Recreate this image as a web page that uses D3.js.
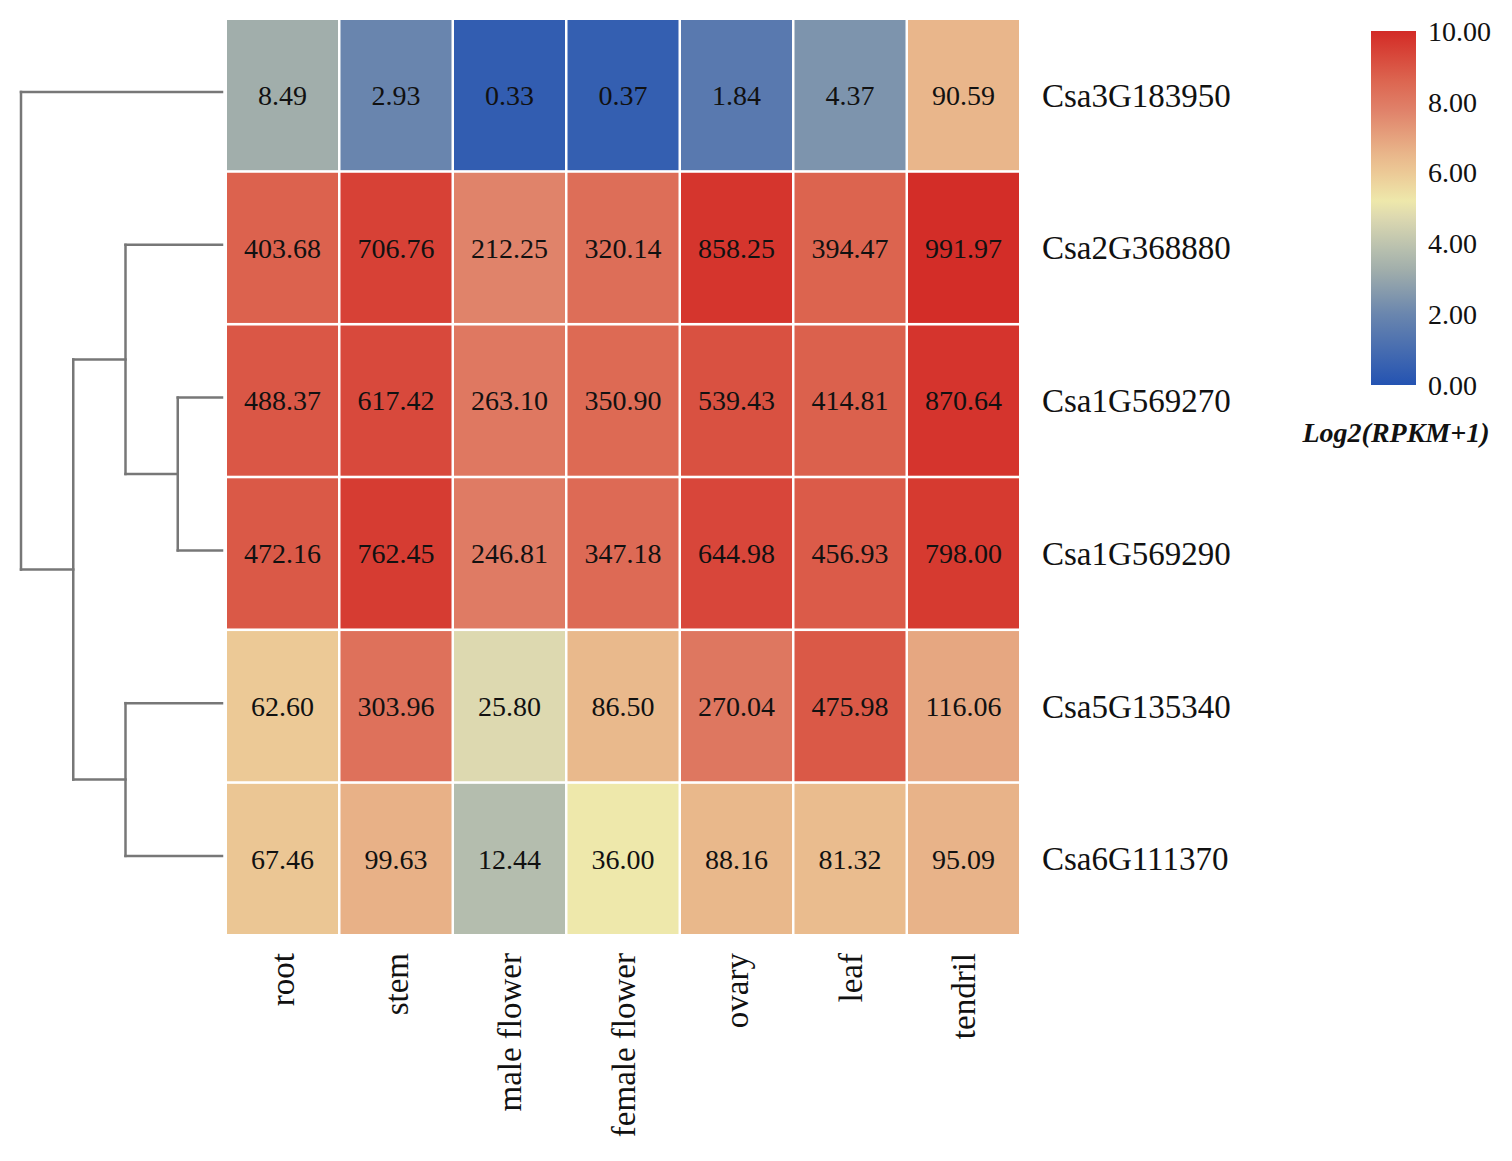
<!DOCTYPE html>
<html>
<head>
<meta charset="utf-8">
<script src="https://cdn.jsdelivr.net/npm/d3@7/dist/d3.min.js"></script>
<style>
  html, body { margin: 0; padding: 0; background: #fff; }
  text { font-family: "Liberation Serif", "Times New Roman", serif; }
</style>
</head>
<body>
<svg id="chart" width="1512" height="1161"></svg>
<script>
// ---------- data ----------
const tissues = ["root", "stem", "male flower", "female flower", "ovary", "leaf", "tendril"];
const genes = ["Csa3G183950", "Csa2G368880", "Csa1G569270", "Csa1G569290", "Csa5G135340", "Csa6G111370"];

const Csa3G183950 = [8.49, 2.93, 0.33, 0.37, 1.84, 4.37, 90.59];
const Csa2G368880 = [403.68, 706.76, 212.25, 320.14, 858.25, 394.47, 991.97];
const Csa1G569270 = [488.37, 617.42, 263.10, 350.90, 539.43, 414.81, 870.64];
const Csa1G569290 = [472.16, 762.45, 246.81, 347.18, 644.98, 456.93, 798.00];
const Csa5G135340 = [62.60, 303.96, 25.80, 86.50, 270.04, 475.98, 116.06];
const Csa6G111370 = [67.46, 99.63, 12.44, 36.00, 88.16, 81.32, 95.09];

const legendTicks = [0, 2, 4, 6, 8, 10];
const legendTitle = "Log2(RPKM+1)";

// colour stops (log2 value -> colour)
const colorStops = [0, 2, 3.25, 3.75, 4.74, 5.2, 6, 6.5, 7.75, 8.6, 9.75, 10];
const colorValues = ["#2453b2", "#6a86ae", "#a1aeab", "#b4bdae", "#ddd9b0", "#eee8ab",
                     "#ecc996", "#e9b78b", "#e0826a", "#dc6550", "#d5352d", "#d22b27"];

// row dendrogram (h = merge height)
const rowTree = {h: 4, children: [
  {leaf: "Csa3G183950"},
  {h: 3, children: [
    {h: 2, children: [
      {leaf: "Csa2G368880"},
      {h: 1, children: [{leaf: "Csa1G569270"}, {leaf: "Csa1G569290"}]}
    ]},
    {h: 2, children: [{leaf: "Csa5G135340"}, {leaf: "Csa6G111370"}]}
  ]}
]};

const rowValues = {Csa3G183950, Csa2G368880, Csa1G569270, Csa1G569290, Csa5G135340, Csa6G111370};
const cells = [];
genes.forEach(g => rowValues[g].forEach((v, i) => cells.push({gene: g, tissue: tissues[i], value: v})));

// ---------- drawing ----------
const svg = d3.select("#chart");
const x = d3.scaleBand().domain(tissues).range([227, 1019]).paddingInner(0.022);
const y = d3.scaleBand().domain(genes).range([20, 934]).paddingInner(0.017);
const color = d3.scaleLinear().domain(colorStops).range(colorValues).clamp(true);
const lg = v => Math.log2(v + 1);

// cells
svg.append("g").selectAll("rect").data(cells).join("rect")
  .attr("x", d => x(d.tissue)).attr("y", d => y(d.gene))
  .attr("width", x.bandwidth()).attr("height", y.bandwidth())
  .attr("fill", d => color(lg(d.value)));

svg.append("g").selectAll("text").data(cells).join("text")
  .attr("x", d => x(d.tissue) + x.bandwidth() / 2)
  .attr("y", d => y(d.gene) + y.bandwidth() / 2)
  .attr("text-anchor", "middle").attr("dy", "0.35em")
  .attr("font-size", 28).attr("fill", "#111")
  .text(d => d.value.toFixed(2));

// row labels
svg.append("g").selectAll("text").data(genes).join("text")
  .attr("x", 1042).attr("y", d => y(d) + y.bandwidth() / 2)
  .attr("dy", "0.35em").attr("font-size", 33).attr("fill", "#111")
  .text(d => d);

// column labels
svg.append("g").selectAll("text").data(tissues).join("text")
  .attr("transform", d => `translate(${x(d) + x.bandwidth() / 2},953) rotate(-90)`)
  .attr("text-anchor", "end").attr("dy", "0.35em")
  .attr("font-size", 33).attr("fill", "#111")
  .text(d => d);

// dendrogram
const hx = d3.scaleLinear().domain([0, 4]).range([230, 21]);
const leafEnd = 222;
const root = d3.hierarchy(rowTree);
root.eachAfter(n => {
  if (n.data.leaf) { n.py = y(n.data.leaf) + y.bandwidth() / 2 - 3; n.px = leafEnd; }
  else {
    n.py = (n.children[0].py + n.children[n.children.length - 1].py) / 2;
    n.px = hx(n.data.h);
  }
});
const segs = [];
root.each(n => {
  if (!n.children) return;
  segs.push([n.px, n.children[0].py, n.px, n.children[n.children.length - 1].py]);
  n.children.forEach(c => segs.push([n.px, c.py, c.px, c.py]));
});
svg.append("g").selectAll("line").data(segs).join("line")
  .attr("x1", d => d[0]).attr("y1", d => d[1]).attr("x2", d => d[2]).attr("y2", d => d[3])
  .attr("stroke", "#777").attr("stroke-width", 2.5).attr("stroke-linecap", "square");

// legend
const ly = d3.scaleLinear().domain([0, 10]).range([385, 31]);
const defs = svg.append("defs");
const grad = defs.append("linearGradient").attr("id", "lgrad")
  .attr("x1", 0).attr("y1", 1).attr("x2", 0).attr("y2", 0);
grad.selectAll("stop").data(colorStops).join("stop")
  .attr("offset", d => d / 10).attr("stop-color", d => color(d));
svg.append("rect").attr("x", 1371).attr("y", ly(10)).attr("width", 45)
  .attr("height", ly(0) - ly(10)).attr("fill", "url(#lgrad)");
svg.append("g").selectAll("text").data(legendTicks).join("text")
  .attr("x", 1428).attr("y", d => ly(d)).attr("dy", "0.35em")
  .attr("font-size", 28).attr("fill", "#111")
  .text(d => d.toFixed(2));
svg.append("text").attr("x", 1396).attr("y", 432).attr("dy", "0.35em")
  .attr("text-anchor", "middle").attr("font-size", 28)
  .attr("font-weight", "bold").attr("font-style", "italic").attr("fill", "#111")
  .text(legendTitle);
</script>
</body>
</html>
